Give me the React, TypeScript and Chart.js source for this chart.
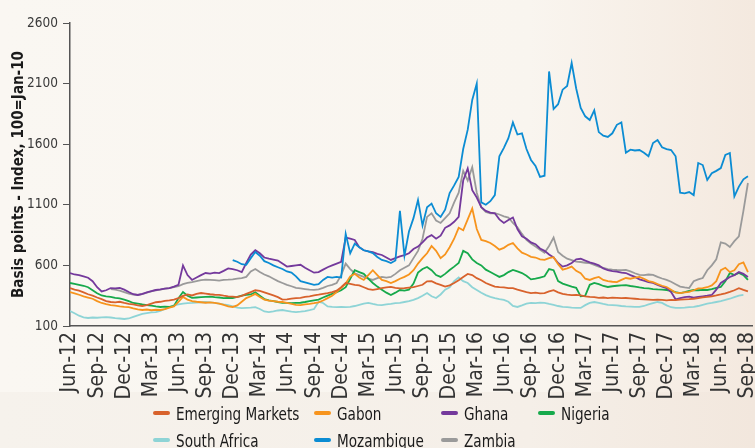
import React, { useEffect, useRef } from "react";
import { Chart, registerables } from "chart.js";
Chart.register(...registerables);

// Quarterly tick labels (every 3 months, Jun-12 .. Sep-18)
const quarterLabels = [
  "Jun-12", "Sep-12", "Dec-12", "Mar-13", "Jun-13", "Sep-13", "Dec-13", "Mar-14", "Jun-14",
  "Sep-14", "Dec-14", "Mar-15", "Jun-15", "Sep-15", "Dec-15", "Mar-16", "Jun-16", "Sep-16",
  "Dec-16", "Mar-17", "Jun-17", "Sep-17", "Dec-17", "Mar-18", "Jun-18", "Sep-18",
];

// Semi-monthly observations, starting Jun-12
const emergingMarkets = [
  413, 400, 392, 378, 362, 350, 335, 322, 305, 298,
  295, 300, 290, 282, 278, 270, 265, 272, 285, 296,
  300, 308, 312, 318, 330, 348, 360, 352, 365, 372,
  368, 362, 358, 356, 350, 345, 342, 338, 348, 365,
  380, 395, 390, 378, 365, 352, 338, 318, 320, 325,
  330, 332, 340, 345, 352, 358, 365, 372, 380, 392,
  420, 455, 448, 440, 435, 420, 405, 398, 405, 412,
  418, 422, 415, 410, 412, 416, 420, 430, 440, 468,
  470, 452, 440, 425, 435, 455, 478, 505, 530, 520,
  495, 478, 455, 440, 425, 420, 418, 412, 413, 400,
  390, 380, 372, 375, 370, 372, 385, 395, 378, 365,
  358, 355, 356, 352, 345, 340, 338, 332, 335, 330,
  334, 332, 330, 331, 328, 325, 322, 320, 318, 315,
  318, 316, 312, 315, 314, 318, 320, 322, 325, 330,
  336, 340, 345, 352, 360, 370, 382, 395, 412, 398,
  385,
];

const gabon = [
  380, 370, 358, 345, 335, 325, 305, 290, 280, 272,
  268, 262, 258, 255, 245, 238, 232, 236, 230, 234,
  232, 240, 252, 262, 300, 340, 318, 305, 300, 296,
  292, 295, 290, 285, 275, 262, 257, 270, 300, 330,
  345, 365, 340, 318, 310, 305, 300, 298, 290, 282,
  275, 272, 278, 282, 288, 295, 310, 330, 350, 380,
  415, 450, 510, 530, 500, 480, 520, 560, 520, 480,
  470, 455, 470, 490, 505, 525, 560, 615, 660, 700,
  760, 720, 660, 690, 750, 820, 910, 890, 980, 1070,
  900, 810, 800, 785, 760, 730, 745, 770, 785, 740,
  705, 690, 670, 665, 650, 645, 660, 668, 610, 565,
  575, 590, 555, 535, 490, 480, 495, 505, 480, 470,
  465, 462, 480, 496, 490, 500, 505, 490, 470, 462,
  445, 432, 422, 400, 375, 372, 378, 382, 395, 410,
  412, 420, 435, 470, 560, 580, 545, 560, 610, 625,
  545,
];

const ghana = [
  537, 525, 520, 510, 498, 470, 420, 385, 395, 413,
  410, 415, 400, 380, 362, 356, 365, 378, 388, 397,
  402, 408, 413, 425, 440, 600, 520, 480, 500, 520,
  537, 532, 540, 537, 555, 575, 570, 560, 545, 620,
  690, 725, 700, 665, 655, 648, 640, 615, 590, 595,
  600, 605, 580, 560, 540, 545, 565, 585, 600, 615,
  630, 830, 820, 810, 750, 725, 715, 710, 695, 686,
  665, 645, 660, 675, 685, 700, 735, 755, 790, 830,
  850, 820, 845, 910, 930, 960, 1000, 1300, 1400, 1220,
  1160, 1080, 1050, 1035, 1030, 980, 950, 975, 995, 900,
  840, 820, 790, 775, 740, 720, 690, 665, 620, 590,
  600, 620, 650, 655, 640, 625, 615, 600, 575, 560,
  552, 548, 540, 537, 520, 505, 485, 475, 462, 455,
  440, 425, 413, 380, 320, 330, 338, 342, 335, 340,
  345, 350, 356, 400, 455, 480, 504, 520, 545, 530,
  504,
];

const nigeria = [
  455, 448, 440, 432, 420, 395, 370, 352, 345, 340,
  332, 328, 318, 305, 290, 285, 278, 273, 268, 262,
  257, 260, 258, 265, 330, 380, 350, 332, 335, 338,
  340, 342, 338, 335, 330, 332, 331, 340, 350, 356,
  360, 378, 350, 322, 312, 305, 298, 292, 290, 288,
  290, 292, 298, 305, 312, 318, 335, 350, 365, 380,
  395, 420, 490, 560, 545, 530, 490, 455, 425, 400,
  375, 356, 375, 397, 392, 400, 450, 540, 570, 587,
  560, 520, 505, 530, 562, 590, 620, 720, 700, 650,
  620, 600, 565, 545, 525, 505, 520, 545, 562, 550,
  537, 515, 485, 490, 500, 510, 570, 560, 470, 450,
  438, 425, 415, 345, 350, 440, 455, 445, 430, 422,
  428, 432, 436, 438, 430, 425, 418, 413, 410, 405,
  402, 400, 397, 390, 380, 372, 380, 390, 397, 395,
  398, 397, 405, 415, 422, 470, 537, 520, 537, 520,
  480,
];

const southAfrica = [
  224, 205, 185, 172, 166, 170, 168, 172, 174, 170,
  165, 162, 158, 162, 175, 188, 200, 207, 212, 215,
  225, 240, 255, 270, 278, 285, 288, 290, 294, 296,
  298, 295, 290, 285, 278, 272, 262, 252, 248, 250,
  252, 255, 240, 220, 215, 220, 228, 232, 225, 218,
  215, 218, 222, 230, 240, 300, 290, 262, 257, 255,
  258, 256, 257, 265, 275, 285, 290, 282, 275, 273,
  278, 282, 288, 290, 298, 305, 315, 330, 350, 372,
  345, 331, 360, 400, 420, 470, 500, 470, 455, 420,
  397, 375, 355, 340, 330, 322, 315, 300, 265, 257,
  270, 285, 290, 288, 292, 290, 282, 275, 265, 257,
  255, 252, 250, 249, 272, 290, 298, 290, 282, 275,
  273, 270, 265, 262, 260, 258, 257, 265, 278, 288,
  298, 290, 270, 255, 249, 250, 252, 255, 257, 265,
  275, 285, 290, 298, 305, 315, 325, 338, 350, 356,
  null,
];

const mozambique = [
  null, null, null, null, null, null, null, null, null, null,
  null, null, null, null, null, null, null, null, null, null,
  null, null, null, null, null, null, null, null, null, null,
  null, null, null, null, null, null,
  644, 630, 610, 605, 660, 710, 680, 635, 620, 600, 585, 570, 550, 540,
  510, 470, 460, 450, 440, 445, 480, 505, 500, 505,
  500, 860, 700, 780, 750, 725, 715, 702, 670, 645,
  635, 620, 640, 1050, 680, 880, 990, 1140, 930, 1080,
  1110, 1030, 1000, 1060, 1197, 1260, 1330, 1560, 1720, 1965,
  2100, 1120, 1100, 1130, 1180, 1500, 1570, 1650, 1780, 1680,
  1690, 1560, 1470, 1420, 1330, 1340, 2200, 1890, 1930, 2050,
  2080, 2270, 2060, 1900, 1830, 1800, 1880, 1700, 1670, 1660,
  1690, 1760, 1780, 1530, 1555, 1548, 1552, 1530, 1500, 1610,
  1634, 1575, 1560, 1552, 1500, 1200, 1195, 1205, 1180, 1445,
  1428, 1305, 1360, 1380, 1403, 1511, 1527, 1170, 1250, 1310,
  1335,
];

const zambia = [
  null, null, null, null, null, null, null, null, null,
  405, 400, 392, 380, 368, 360, 356, 362, 375, 385, 395,
  400, 408, 412, 420, 428, 445, 455, 462, 470, 478,
  482, 480, 478, 475, 480, 482, 485, 490, 495, 505,
  550, 570, 545, 525, 510, 490, 470, 455, 440, 428,
  415, 410, 405, 400, 398, 402, 415, 430, 440, 455,
  520, 615, 570, 535, 520, 505, 490, 480, 495, 505,
  500, 505, 530, 560, 580, 600, 660, 720, 820, 1000,
  1030, 970, 950, 990, 1030, 1120, 1200, 1380, 1300, 1410,
  1200, 1080, 1040, 1030, 1032, 1020, 1005, 995, 950, 915,
  860, 810, 780, 755, 730, 705, 760, 830, 710, 680,
  655, 644, 632, 628, 622, 618, 605, 590, 580, 570,
  565, 562, 560, 562, 550, 535, 522, 520, 525, 521,
  505, 492, 480, 465, 445, 425, 418, 413, 470, 485,
  496, 560, 600, 650, 790, 780, 752, 800, 840, 1050,
  1280,
];

const seriesNames = ["Emerging Markets", "Gabon", "Ghana", "Nigeria", "South Africa", "Mozambique", "Zambia"];
const seriesColors = ["#d8622c", "#f7941d", "#74399c", "#16a94b", "#8ed4d6", "#0b8cd3", "#9a9a9a"];
const seriesValues = [emergingMarkets, gabon, ghana, nigeria, southAfrica, mozambique, zambia];

const FONT = "'DejaVu Sans Condensed', 'Liberation Sans Narrow', sans-serif";

const legendCols = [153, 314, 441, 538];
const legendRows = [413, 440];

export default function App() {
  const ref = useRef<HTMLCanvasElement>(null);

  useEffect(() => {
    document.body.style.margin = "0";
    document.body.style.background = "#f8f4ee";
    const toPts = (arr: (number | null)[]) => arr.map((v, i) => ({ x: i / 2, y: v }));
    const datasets = seriesValues.map((vals, k) => ({
      label: seriesNames[k],
      data: toPts(vals),
      borderColor: seriesColors[k],
      backgroundColor: seriesColors[k],
      borderWidth: 1.8,
      pointRadius: 0,
      tension: 0,
      spanGaps: false,
      order: k === 5 ? 0 : 1,
    }));
    const chart = new Chart(ref.current as HTMLCanvasElement, {
      type: "line",
      data: { datasets: datasets as any },
      options: {
        animation: false,
        responsive: false,
        maintainAspectRatio: false,
        layout: { padding: { left: 0, top: 23, right: 3, bottom: 0 } },
        plugins: { legend: { display: false }, tooltip: { enabled: false } },
        scales: {
          x: {
            type: "linear",
            min: 0,
            max: 75.45,
            afterBuildTicks: (s: any) => {
              s.ticks = quarterLabels.map((_, k) => ({ value: k * 3 }));
            },
            afterFit: (s: any) => {
              s.height = 122;
              s.paddingLeft = 0;
              s.paddingRight = 0;
            },
            grid: { drawOnChartArea: false, drawTicks: false },
            border: { color: "#555555", width: 1.5 },
            ticks: {
              autoSkip: false,
              minRotation: 90,
              maxRotation: 90,
              padding: 6,
              color: "#333333",
              font: { family: FONT, size: 21 },
              callback: (v: any) => quarterLabels[Math.round(Number(v) / 3)] ?? "",
            },
          },
          y: {
            min: 100,
            max: 2600,
            afterFit: (s: any) => {
              s.width = 70;
              s.paddingTop = 0;
              s.paddingBottom = 0;
            },
            grid: { drawOnChartArea: false, drawTicks: true, tickLength: 7, color: "#555555" },
            border: { color: "#555555", width: 1.5 },
            ticks: {
              stepSize: 500,
              padding: 5,
              color: "#3a3a3a",
              font: { family: FONT, size: 13.5 },
              callback: (v: any) => String(v),
            },
            title: {
              display: true,
              text: "Basis points - Index, 100=Jan-10",
              color: "#1a1a1a",
              padding: { top: 10, bottom: 0 },
              font: { family: FONT, size: 15, weight: "bold" },
            },
          },
        },
      },
    });
    return () => chart.destroy();
  }, []);

  return (
    <div
      style={{
        position: "relative",
        width: 755,
        height: 448,
        overflow: "hidden",
        background: "linear-gradient(to right, #faf7f2 0%, #f9f5ef 70%, #f4e9df 100%)",
      }}
    >
      <div
        style={{
          position: "absolute",
          left: 0,
          top: 392,
          width: 755,
          height: 56,
          background: "linear-gradient(to right, #f6f2ec 0%, #f5efe8 70%, #f2e7dd 100%)",
        }}
      />
      <canvas ref={ref} width={755} height={448} style={{ position: "absolute", left: 0, top: 0 }} />
      {seriesNames.map((name, k) => {
        const col = k < 4 ? k : k - 4;
        const row = k < 4 ? 0 : 1;
        return (
          <div
            key={name}
            style={{
              position: "absolute",
              left: legendCols[col],
              top: legendRows[row] - 11,
              height: 22,
              display: "flex",
              alignItems: "center",
              whiteSpace: "nowrap",
              fontFamily: FONT,
              fontSize: 18,
              color: "#1a1a1a",
            }}
          >
            <span
              style={{
                display: "inline-block",
                width: 17,
                height: 4,
                borderRadius: 2,
                background: seriesColors[k],
                marginRight: 6,
              }}
            />
            <span style={{ display: "inline-block", transform: "scaleX(0.84)", transformOrigin: "left center" }}>
              {name}
            </span>
          </div>
        );
      })}
    </div>
  );
}
